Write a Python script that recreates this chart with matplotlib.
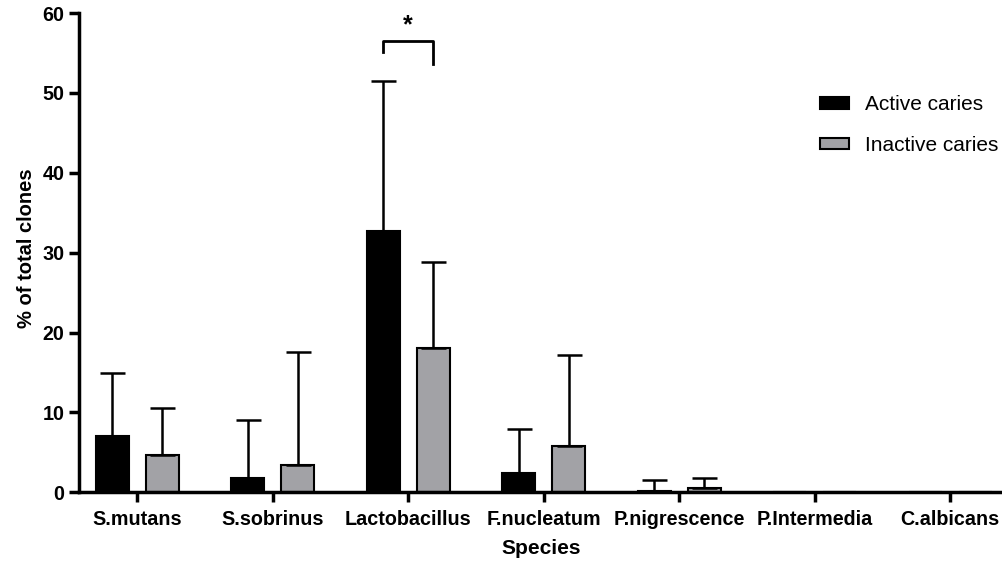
import numpy as np
import matplotlib.pyplot as plt

plt.rcParams['font.family'] = ['Liberation Sans', 'DejaVu Sans']

species = ['S.mutans', 'S.sobrinus', 'Lactobacillus', 'F.nucleatum',
           'P.nigrescence', 'P.Intermedia', 'C.albicans']
active = [7.1, 1.75, 32.7, 2.4, 0.2, 0, 0]
active_sd = [7.8, 7.3, 18.8, 5.5, 1.3, 0, 0]
inactive = [4.6, 3.4, 18.0, 5.8, 0.5, 0, 0]
inactive_sd = [5.9, 14.1, 10.8, 11.4, 1.3, 0, 0]

x = np.arange(len(species))
w = 0.245
off = 0.185

fig = plt.figure(figsize=(10.03, 5.71), dpi=100)
ax = fig.add_axes([0.0788, 0.138, 0.9212, 0.839])

ax.bar(x - off, active, w, color='black', edgecolor='black', linewidth=1.5,
       label='Active caries', zorder=2)
ax.bar(x + off, inactive, w, color='#a2a2a6', edgecolor='black', linewidth=1.5,
       label='Inactive caries', zorder=2)

# upward-only error bars
for xs, ys, es in [(x - off, active, active_sd), (x + off, inactive, inactive_sd)]:
    for xi, yi, ei in zip(xs, ys, es):
        if ei > 0:
            ax.errorbar(xi, yi, yerr=[[0], [ei]], fmt='none', ecolor='black',
                        elinewidth=1.8, capsize=9, capthick=1.8, zorder=3)

# significance bracket
x1, x2 = 2 - off, 2 + off
ax.plot([x1, x1, x2, x2], [55.1, 56.5, 56.5, 53.6], color='black', lw=2,
        clip_on=False)
ax.text(2, 57.0, '*', ha='center', va='bottom', fontsize=18, fontweight='bold')

ax.set_xlim(-0.43, 6.39)
ax.set_ylim(0, 60)
ax.set_yticks(range(0, 61, 10))
ax.set_xticks(x)
ax.set_xticklabels(species)
ax.spines['top'].set_visible(False)
ax.spines['right'].set_visible(False)
for s in ['left', 'bottom']:
    ax.spines[s].set_linewidth(2.5)
ax.tick_params(axis='both', width=2.5, length=7, labelsize=14.2)
ax.tick_params(axis='x', pad=6)
for lab in ax.get_xticklabels() + ax.get_yticklabels():
    lab.set_fontweight('bold')

ax.set_xlabel('Species', fontsize=15, fontweight='bold', labelpad=7)
ax.set_ylabel('% of total clones', fontsize=14.5, fontweight='bold')
ax.yaxis.set_label_coords(-0.047, 0.51)

ax.legend(loc='upper left', bbox_to_anchor=(820 / 1003, 1 - 95 / 571),
          bbox_transform=fig.transFigure, frameon=False, borderpad=0,
          borderaxespad=0, fontsize=15, handlelength=1.4, handleheight=0.5,
          handletextpad=0.75, labelspacing=1.05)

fig.savefig('out.png', dpi=100)
